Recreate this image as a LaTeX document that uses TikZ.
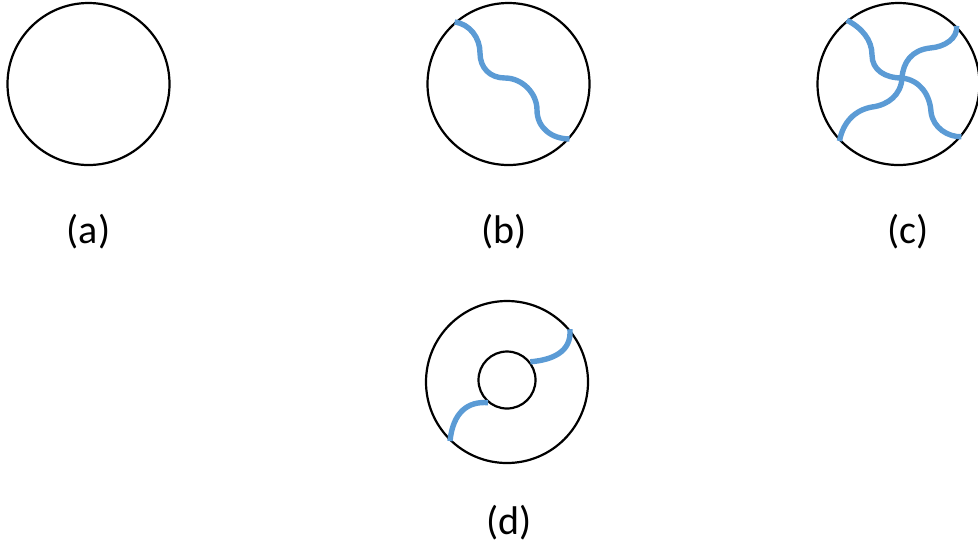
\documentclass[tikz,border=0pt]{standalone}
\usepackage{fontspec}
\setmainfont{Carlito}
\definecolor{strandblue}{HTML}{5B9BD5}
\begin{document}
\begin{tikzpicture}[
            x=0.5pt, y=-0.5pt,
            ring/.style={circle, draw, line width=1.1pt, minimum size=81pt, inner sep=0pt},
            hole/.style={circle, draw, line width=1.1pt, minimum size=28.5pt, inner sep=0pt},
            strand/.style={draw=strandblue, line width=2.7pt},
            caption/.style={anchor=base, font=\fontsize{20}{24}\selectfont},
        ]
        \useasboundingbox (0,0) rectangle (978,548);
        % discs
        \node[ring] (ca) at (88.5,84) {};
        \node[ring] (cb) at (508.5,84) {};
        \node[ring] (cc) at (898.5,84) {};
        \node[ring] (cd) at (507,382) {};
        \node[hole] (ch) at (507,380) {};
        % strands
        \draw[strand] (cb.131) .. controls (470,24) and (480,38) .. (480,53)
            .. controls (480,68) and (490,78) .. (505,78)
            .. controls (522,78) and (537,93) .. (537,110)
            .. controls (537,128) and (552,139) .. (cb.-42);
        \draw[strand] (cc.129) .. controls (862,28) and (872,40) .. (872,55)
            .. controls (872,70) and (885,78) .. (902,78)
            .. controls (920,80) and (930,95) .. (931,112)
            .. controls (933,128) and (948,137) .. (cc.-40);
        \draw[strand] (cc.45) .. controls (958,38) and (945,47) .. (930,48)
            .. controls (912,50) and (903,62) .. (902,78)
            .. controls (901,95) and (888,105) .. (872,107)
            .. controls (855,110) and (843,122) .. (cc.224);
        \draw[strand] (ch.38) .. controls (552,360) and (572,352) .. (cd.40);
        \draw[strand] (ch.230) .. controls (468,401) and (453,412) .. (cd.226);
        % labels
        \node[caption] (la) at (88.5,243) {(a)};
        \node[caption] (lb) at (504,243) {(b)};
        \node[caption] (lc) at (908,243) {(c)};
        \node[caption] (ld) at (509.5,534) {(d)};
\end{tikzpicture}
\end{document}
